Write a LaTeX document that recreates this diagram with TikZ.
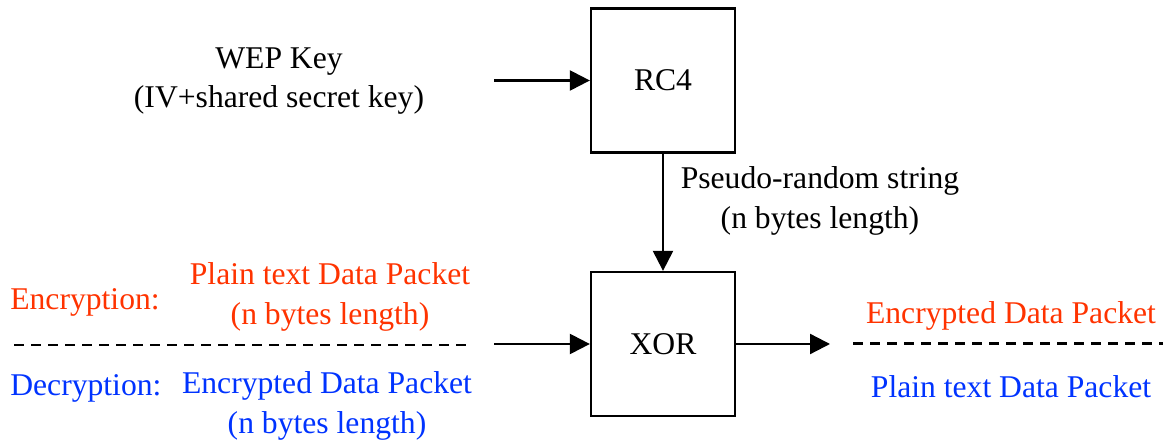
\documentclass[tikz,border=0pt]{standalone}
\usepackage{fontspec}
\setmainfont{Liberation Serif}
\usepackage{xcolor}
\usepackage{tikz}
\usetikzlibrary{positioning, arrows.meta}
\definecolor{encred}{RGB}{255,51,0}
\definecolor{decblue}{RGB}{0,51,255}

\begin{document}
\begin{tikzpicture}[
		font=\fontsize{18}{22.5}\selectfont,
		blk/.style={draw, rectangle, line width=1.3pt, minimum width=2.88cm, minimum height=2.88cm},
		flow/.style={-{Triangle[length=0.4cm, width=0.4cm]}, line width=1.3pt},
		sep/.style={line width=1.3pt, dash pattern=on 0.2cm off 0.14cm},
		lbl/.style={align=center, inner sep=0}
		]
		\useasboundingbox (0,0) rectangle (23.36,8.84);
		
		% draw the two boxes
		\node[blk] (rc4) at (13.26, 7.23) {RC4};
		\node[blk] (xor) at (13.26, 1.96) {XOR};
		
		% key input
		\node[lbl] (key) at (5.58, 7.22) {WEP Key\\(IV+shared secret key)};
		\coordinate (keyin) at (9.88, 7.23);
		\draw[flow] (keyin) -> (rc4.west);
		
		% keystream
		\draw[flow] (rc4.south) -> (xor.north);
		\node[lbl] (stream) at (16.4, 4.82) {Pseudo-random string\\(n bytes length)};
		
		% data in and out of xor
		\coordinate (datain) at (9.88, 1.96);
		\coordinate (dataout) at (16.6, 1.96);
		\draw[flow] (datain) -> (xor.west);
		\draw[flow] (xor.east) -> (dataout);
		
		% dashed separators
		\coordinate (sepl1) at (0.28, 1.94);
		\coordinate (sepl2) at (9.44, 1.94);
		\coordinate (sepr1) at (17.06, 1.97);
		\coordinate (sepr2) at (23.26, 1.97);
		\draw[sep] (sepl1) -- (sepl2);
		\draw[sep] (sepr1) -- (sepr2);
		
		% encryption (red) and decryption (blue) labels
		\node[lbl, anchor=west, text=encred] (enc) at (0.2, 2.8) {Encryption:};
		\node[lbl, text=encred] (encin) at (6.6, 2.9) {Plain text Data Packet\\(n bytes length)};
		\node[lbl, text=encred] (encout) at (20.22, 2.52) {Encrypted Data Packet};
		\node[lbl, anchor=west, text=decblue] (dec) at (0.2, 1.08) {Decryption:};
		\node[lbl, text=decblue] (decin) at (6.54, 0.72) {Encrypted Data Packet\\(n bytes length)};
		\node[lbl, text=decblue] (decout) at (20.22, 1.1) {Plain text Data Packet};
		\end{tikzpicture}
\end{document}
